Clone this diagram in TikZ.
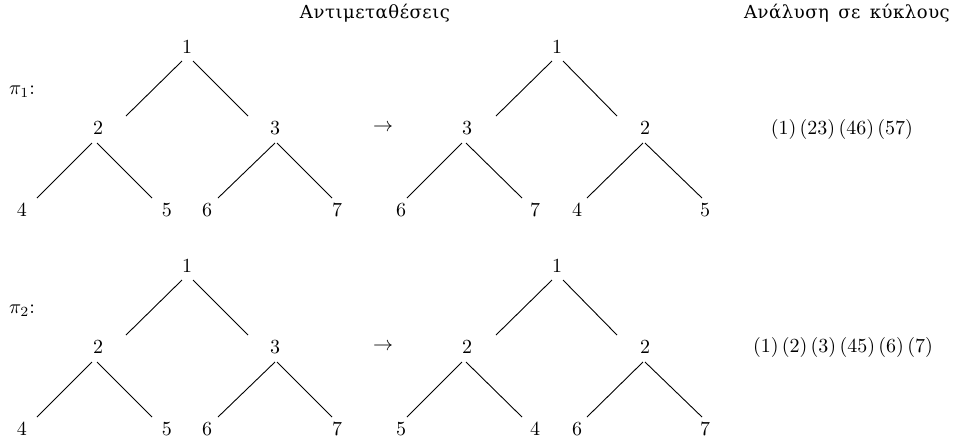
\documentclass[tikz,border=0pt]{standalone}
\usepackage{fontspec}
\newfontfamily\greekfont[Scale=0.9,LetterSpace=3,WordSpace=1.5]{DejaVu Serif}
\begin{document}
\begin{tikzpicture}[x=0.5pt,y=-0.5pt,
  lbl/.style={inner sep=0pt},
  edge/.style={draw,line width=0.45pt}]
\useasboundingbox (0,0) rectangle (955,440);

\newcommand\lefttree[8]{%
  \node[lbl] (#1r) at (187,47) {#2};
  \node[lbl] (#1l) at (98,128) {#3};
  \node[lbl] (#1m) at (275,128) {#4};
  \node[lbl] (#1a) at (22,210) {#5};
  \node[lbl] (#1b) at (167,210) {#6};
  \node[lbl] (#1c) at (207,210) {#7};
  \node[lbl] (#1d) at (337,210) {#8};
  \draw[edge] ([shift={(-5,14)}]#1r.center) -- ([shift={(28,-12)}]#1l.center);
  \draw[edge] ([shift={(6,14)}]#1r.center) -- ([shift={(-27,-12)}]#1m.center);
  \draw[edge] ([shift={(-6,15)}]#1l.center) -- ([shift={(15,-12)}]#1a.center);
  \draw[edge] ([shift={(-1,15)}]#1l.center) -- ([shift={(-15,-12)}]#1b.center);
  \draw[edge] ([shift={(0,15)}]#1m.center) -- ([shift={(11,-12)}]#1c.center);
  \draw[edge] ([shift={(2,15)}]#1m.center) -- ([shift={(-5,-12)}]#1d.center);
}
\newcommand\righttree[8]{%
  \node[lbl] (#1r) at (557,47) {#2};
  \node[lbl] (#1l) at (467,128) {#3};
  \node[lbl] (#1m) at (645,128) {#4};
  \node[lbl] (#1a) at (401,210) {#5};
  \node[lbl] (#1b) at (535,210) {#6};
  \node[lbl] (#1c) at (577,210) {#7};
  \node[lbl] (#1d) at (705,210) {#8};
  \draw[edge] ([shift={(-5,14)}]#1r.center) -- ([shift={(29,-12)}]#1l.center);
  \draw[edge] ([shift={(6,14)}]#1r.center) -- ([shift={(-28,-12)}]#1m.center);
  \draw[edge] ([shift={(-5,15)}]#1l.center) -- ([shift={(6,-12)}]#1a.center);
  \draw[edge] ([shift={(-1,15)}]#1l.center) -- ([shift={(-13,-12)}]#1b.center);
  \draw[edge] ([shift={(-2,15)}]#1m.center) -- ([shift={(10,-12)}]#1c.center);
  \draw[edge] ([shift={(0,15)}]#1m.center) -- ([shift={(-3,-12)}]#1d.center);
}

% headers
\node[lbl] (h1) at (375,13) {\greekfont Αντιμεταθέσεις};
\node[lbl] (h2) at (847,13) {\greekfont Ανάλυση σε κύκλους};

% row 1
\node[lbl] (p1) at (22,92) {$\pi_1$:};
\lefttree{A}{1}{2}{3}{4}{5}{6}{7}
\node[lbl] (ar1) at (383,128) {$\rightarrow$};
\righttree{B}{1}{3}{2}{6}{7}{4}{5}
\node[lbl] (c1) at (842,129) {$(1)\mkern3mu(23)\mkern3mu(46)\mkern3mu(57)$};

% row 2
\begin{scope}[shift={(0,219)}]
\node[lbl] (p2) at (22,92) {$\pi_2$:};
\lefttree{C}{1}{2}{3}{4}{5}{6}{7}
\node[lbl] (ar2) at (383,128) {$\rightarrow$};
\righttree{D}{1}{2}{2}{5}{4}{6}{7}
\node[lbl] (c2) at (843,128) {$(1)\mkern3mu(2)\mkern3mu(3)\mkern3mu(45)\mkern3mu(6)\mkern3mu(7)$};
\end{scope}
\end{tikzpicture}
\end{document}
